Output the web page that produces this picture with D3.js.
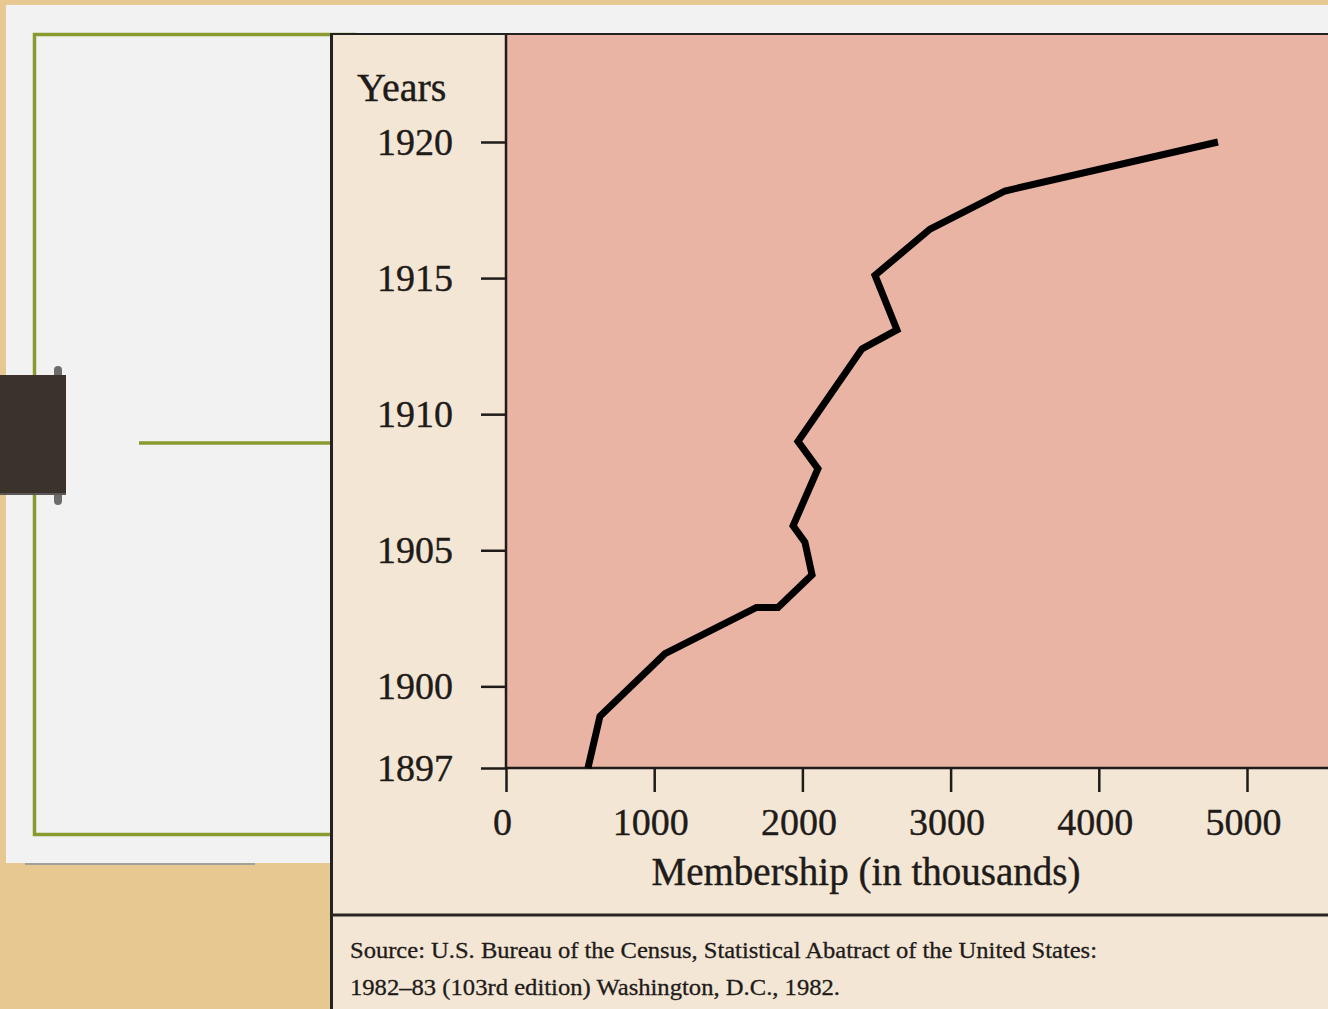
<!DOCTYPE html>
<html>
<head>
<meta charset="utf-8">
<script src="https://cdn.jsdelivr.net/npm/d3@7"></script>
<style>
  html, body { margin: 0; padding: 0; background: #e6c68f; }
  svg { display: block; }
</style>
</head>
<body>
<div id="chart"></div>
<script>
// union membership (thousands)
var years   = [1897, 1898.9, 1901.2, 1902.9, 1902.9, 1904.1, 1905.3, 1905.9, 1908, 1909, 1912.4, 1913.1, 1915.1, 1916.8, 1918.2, 1920];
var members = [553, 634, 1073, 1690, 1835, 2065, 2017, 1937, 2105, 1970, 2402, 2638, 2490, 2861, 3367, 4804];

var yearTicks = [1897, 1900, 1905, 1910, 1915, 1920];
var memberTicks = [0, 1000, 2000, 3000, 4000, 5000];

var sourceLines = [
    "Source: U.S. Bureau of the Census, Statistical Abatract of the United States:",
    "1982\u201383 (103rd edition) Washington, D.C., 1982."
];
var sourceWidths = [747, 490];

var width = 1328, height = 1009;
var serif = "'Liberation Serif', 'Times New Roman', serif";
var ink = "#1e1b19";

var svg = d3.select("#chart").append("svg")
    .attr("width", width)
    .attr("height", height);

//wood background
svg.append("rect").attr("width", width).attr("height", height).attr("fill", "#e7c891");

//white slide
svg.append("rect")
    .attr("x", 6).attr("y", 5)
    .attr("width", width - 6).attr("height", 858)
    .attr("fill", "#f2f2f2");
svg.append("line")
    .attr("x1", 25).attr("x2", 255).attr("y1", 864).attr("y2", 864)
    .attr("stroke", "#a3a09b").attr("stroke-width", 2);

//green frame
svg.append("rect")
    .attr("x", 34.5).attr("y", 34.5)
    .attr("width", 320).attr("height", 800)
    .attr("fill", "none")
    .attr("stroke", "#8a9a2e").attr("stroke-width", 3.5);
svg.append("line")
    .attr("x1", 139).attr("x2", 331).attr("y1", 443).attr("y2", 443)
    .attr("stroke", "#8a9a2e").attr("stroke-width", 3.5);

//dark tab
svg.append("rect").attr("x", 54).attr("y", 366).attr("width", 8).attr("height", 20).attr("rx", 4).attr("fill", "#6e6c6a");
svg.append("rect").attr("x", 54).attr("y", 485).attr("width", 8).attr("height", 20).attr("rx", 4).attr("fill", "#6e6c6a");
svg.append("rect")
    .attr("x", 0).attr("y", 375)
    .attr("width", 66).attr("height", 120)
    .attr("fill", "#3a322b");
svg.append("line")
    .attr("x1", 0).attr("x2", 66).attr("y1", 494).attr("y2", 494)
    .attr("stroke", "#5c5855").attr("stroke-width", 2);

//chart panel
var panel = svg.append("g").attr("class", "panel");
panel.append("rect")
    .attr("x", 331).attr("y", 33)
    .attr("width", width - 331).attr("height", height - 33)
    .attr("fill", "#f3e6d5");
panel.append("line")
    .attr("x1", 331.5).attr("x2", 331.5).attr("y1", 33).attr("y2", height)
    .attr("stroke", "#222").attr("stroke-width", 3);
panel.append("line")
    .attr("x1", 331).attr("x2", width).attr("y1", 34).attr("y2", 34)
    .attr("stroke", "#222").attr("stroke-width", 2);

var x = d3.scaleLinear().domain([0, 5000]).range([506, 1247]);
var y = d3.scaleLinear().domain([1897, 1920]).range([768, 142]);

//plot background
panel.append("rect")
    .attr("x", x(0)).attr("y", 35)
    .attr("width", width - x(0)).attr("height", y(1897) - 35)
    .attr("fill", "#e9b4a4");

//axes
var yAxis = d3.axisLeft(y)
    .tickValues(yearTicks)
    .tickSize(25)
    .tickPadding(28)
    .tickFormat(d3.format("d"));
var gy = panel.append("g")
    .attr("transform", "translate(" + x(0) + ",0)")
    .call(yAxis);
gy.select(".domain").remove();

var xAxis = d3.axisBottom(x)
    .tickValues(memberTicks)
    .tickSize(24)
    .tickPadding(16)
    .tickFormat(d3.format("d"));
var gx = panel.append("g")
    .attr("transform", "translate(0," + y(1897) + ")")
    .call(xAxis);
gx.select(".domain").remove();

[gx, gy].forEach(function (g) {
    g.selectAll(".tick line").attr("stroke", ink).attr("stroke-width", 2.5);
    g.selectAll(".tick text")
        .attr("fill", ink)
        .attr("stroke", ink)
        .attr("stroke-width", 0.4)
        .style("font-family", serif)
        .style("font-size", "38px");
});
gx.selectAll(".tick text").attr("dx", "-4");

//axis lines
panel.append("line")
    .attr("x1", x(0)).attr("x2", x(0)).attr("y1", 35).attr("y2", y(1897))
    .attr("stroke", ink).attr("stroke-width", 2.5);
panel.append("line")
    .attr("x1", x(0)).attr("x2", width).attr("y1", y(1897)).attr("y2", y(1897))
    .attr("stroke", ink).attr("stroke-width", 2.5);

//axis titles
panel.append("text")
    .attr("x", 357).attr("y", 101)
    .attr("fill", ink)
    .attr("stroke", ink).attr("stroke-width", 0.4)
    .style("font-family", serif)
    .style("font-size", "40px")
    .text("Years");
panel.append("text")
    .attr("x", 866).attr("y", 885)
    .attr("text-anchor", "middle")
    .attr("fill", ink)
    .attr("stroke", ink).attr("stroke-width", 0.4)
    .style("font-family", serif)
    .style("font-size", "39px")
    .text("Membership (in thousands)");

//membership line
var points = years.map(function (d, i) { return { year: d, value: members[i] }; });
var line = d3.line()
    .x(function (d) { return x(d.value); })
    .y(function (d) { return y(d.year); });
panel.append("path")
    .datum(points)
    .attr("d", line)
    .attr("fill", "none")
    .attr("stroke", "#000")
    .attr("stroke-width", 7)
    .attr("stroke-linejoin", "miter");

//source note
panel.append("line")
    .attr("x1", 331).attr("x2", width).attr("y1", 915).attr("y2", 915)
    .attr("stroke", "#2a2522").attr("stroke-width", 3);
panel.selectAll(".source")
    .data(sourceLines)
    .enter().append("text")
    .attr("class", "source")
    .attr("x", 350)
    .attr("y", function (d, i) { return 958 + i * 37; })
    .attr("textLength", function (d, i) { return sourceWidths[i]; })
    .attr("lengthAdjust", "spacingAndGlyphs")
    .attr("fill", ink)
    .attr("stroke", ink).attr("stroke-width", 0.3)
    .style("font-family", serif)
    .style("font-size", "23px")
    .text(function (d) { return d; });
</script>
</body>
</html>
